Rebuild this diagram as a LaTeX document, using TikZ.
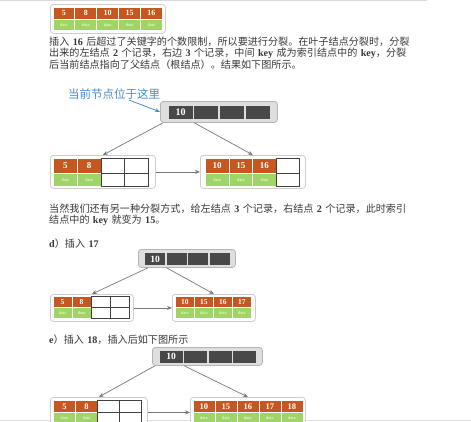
\documentclass[tikz,border=0pt]{standalone}
\usepackage{fontspec}
\setmainfont{Liberation Serif}
\newfontfamily\zhfont[WordSpace=1.5]{Noto Sans CJK SC}
\usepackage{tikz}
\usetikzlibrary{arrows.meta}
\definecolor{keyc}{RGB}{196,88,32}
\definecolor{datac}{RGB}{160,212,104}
\definecolor{darkc}{RGB}{72,72,72}
\definecolor{rootbg}{RGB}{222,222,222}
\definecolor{rootedge}{RGB}{180,180,180}
\definecolor{framec}{RGB}{205,205,205}
\definecolor{txtc}{RGB}{55,55,55}
\definecolor{notec}{RGB}{70,140,200}
\definecolor{arrowc}{RGB}{120,120,120}
\newcommand\bnum[1]{{\rmfamily\bfseries #1}}

\begin{document}
\begin{tikzpicture}[x=1pt,y=-1pt,
  txt/.style={anchor=west,inner sep=0,text=txtc,font=\zhfont\fontsize{10.1}{12}\selectfont},
  leafframe/.style={draw=framec,fill=white,rounded corners=3pt,line width=0.8pt,anchor=north west,inner sep=0},
  rootframe/.style={draw=rootedge,fill=rootbg,rounded corners=3pt,line width=0.8pt,anchor=north west,inner sep=0},
  keycell/.style={fill=keyc,draw=white,line width=0.8pt,anchor=north west,inner sep=0,text=white,font=\bfseries\fontsize{8.5}{8.5}\selectfont},
  datacell/.style={fill=datac,draw=white,line width=0.8pt,anchor=north west,inner sep=0,text=white,font=\fontsize{4.5}{4.5}\selectfont},
  nilcell/.style={fill=white,draw=black!75,line width=0.7pt,anchor=north west,inner sep=0},
  darkcell/.style={fill=darkc,draw=rootbg,line width=1.6pt,anchor=north west,inner sep=0,text=white,font=\bfseries\fontsize{9.5}{9.5}\selectfont},
  link/.style={-{Stealth[length=5pt,width=4pt]},draw=arrowc,line width=0.7pt}]
  \useasboundingbox (0,0) rectangle (471,421);
  \clip (0,0) rectangle (471,421);
  % page edges
  \draw[gray!30,line width=1pt] (0,0.5) -- (427,0.5);
  \draw[gray!25,line width=1pt] (0,420) -- (471,420);

  % full leaf after inserting 16
  \node[leafframe,minimum width=115,minimum height=29] (full) at (50,4) {};
  \foreach \k [count=\i from 0] in {5,8,10,15,16} {
    \node[keycell,minimum width=21.9,minimum height=12.5,font=\bfseries\fontsize{8}{8}\selectfont] (fullk\i) at ({52.5+21.9*\i},6.5) {\k};
    \node[datacell,minimum width=21.9,minimum height=10.5] (fulld\i) at ({52.5+21.9*\i},19) {data};
  }

  \node[txt] (l1) at (49,42) {插入 \bnum{16} 后超过了关键字的个数限制，所以要进行分裂。在叶子结点分裂时，分裂};
  \node[txt] (l2) at (49,53.5) {出来的左结点 \bnum{2} 个记录，右边 \bnum{3} 个记录，中间 \bnum{key} 成为索引结点中的 \bnum{key}，分裂};
  \node[txt] (l3) at (49,65) {后当前结点指向了父结点（根结点）。结果如下图所示。};

  % split: 2 left, 3 right
  \node[txt,text=notec,font=\zhfont\fontsize{11.5}{12}\selectfont] (note) at (68,94) {当前节点位于这里};
  \coordinate (notetip) at (129,100);
  \node[rootframe,minimum width=117,minimum height=21] (aRoot) at (160,101) {};
  \foreach \k [count=\i from 0] in {10,,,} {
    \node[darkcell,minimum width=25.7,minimum height=15,font=\bfseries\fontsize{10}{10}\selectfont] (aRootk\i) at ({167+25.7*\i},104) {\k};
  }
  \node[leafframe,minimum width=105,minimum height=33] (aLeft) at (50,155) {};
  \foreach \k [count=\i from 0] in {5,8} {
    \node[keycell,minimum width=23.8,minimum height=15,font=\bfseries\fontsize{9}{9}\selectfont] (aLeftk\i) at ({53+23.8*\i},158) {\k};
    \node[datacell,minimum width=23.8,minimum height=13] (aLeftd\i) at ({53+23.8*\i},173) {data};
  }
  \foreach \i in {2,3} {
    \node[nilcell,minimum width=23.8,minimum height=15] (aLeftk\i) at ({53+23.8*\i},158) {};
    \node[nilcell,minimum width=23.8,minimum height=13] (aLeftd\i) at ({53+23.8*\i},173) {};
  }
  \node[leafframe,minimum width=105,minimum height=33] (aRight) at (200,155) {};
  \foreach \k [count=\i from 0] in {10,15,16} {
    \node[keycell,minimum width=23.6,minimum height=15,font=\bfseries\fontsize{9}{9}\selectfont] (aRightk\i) at ({205+23.6*\i},158) {\k};
    \node[datacell,minimum width=23.6,minimum height=13] (aRightd\i) at ({205+23.6*\i},173) {data};
  }
  \node[nilcell,minimum width=23.6,minimum height=15] (aRightk3) at ({205+23.6*3},158) {};
  \node[nilcell,minimum width=23.6,minimum height=13] (aRightd3) at ({205+23.6*3},173) {};
  \draw[-{Stealth[length=5pt,width=4pt]},notec,line width=0.8pt] (notetip) -- (aRoot.west);
  \draw[link] ([xshift=3pt]aRoot.south west) -- (aLeft.north);
  \draw[link] (aRootk0.south east |- aRoot.south) -- (aRight.north);
  \draw[link] (aLeft.east) -- (aRight.west);

  \node[txt] (l4) at (49,208.5) {当然我们还有另一种分裂方式，给左结点 \bnum{3} 个记录，右结点 \bnum{2} 个记录，此时索引};
  \node[txt] (l5) at (49,220.5) {结点中的 \bnum{key} 就变为 \bnum{15}。};
  \node[txt] (l6) at (49,244) {\bnum{d}）插入 \bnum{17}};

  % d) insert 17
  \node[rootframe,minimum width=97,minimum height=18] (bRoot) at (138,249) {};
  \foreach \k [count=\i from 0] in {10,,,} {
    \node[darkcell,minimum width=21.5,minimum height=13.5] (bRootk\i) at ({143.5+21.5*\i},251.5) {\k};
  }
  \node[leafframe,minimum width=83,minimum height=27] (bLeft) at (50,294) {};
  \foreach \k [count=\i from 0] in {5,8} {
    \node[keycell,minimum width=19,minimum height=11,font=\bfseries\fontsize{7.5}{7.5}\selectfont] (bLeftk\i) at ({52.7+19*\i},296) {\k};
    \node[datacell,minimum width=19,minimum height=10.5] (bLeftd\i) at ({52.7+19*\i},307) {data};
  }
  \foreach \i in {2,3} {
    \node[nilcell,line width=1pt,minimum width=19,minimum height=11] (bLeftk\i) at ({52.7+19*\i},296) {};
    \node[nilcell,line width=1pt,minimum width=19,minimum height=10.5] (bLeftd\i) at ({52.7+19*\i},307) {};
  }
  \node[leafframe,minimum width=83,minimum height=27] (bRight) at (172,294) {};
  \foreach \k [count=\i from 0] in {10,15,16,17} {
    \node[keycell,minimum width=19,minimum height=11,font=\bfseries\fontsize{7.5}{7.5}\selectfont] (bRightk\i) at ({175+19*\i},296) {\k};
    \node[datacell,minimum width=19,minimum height=10.5] (bRightd\i) at ({175+19*\i},307) {data};
  }
  \draw[link] ([xshift=10pt]bRoot.south west) -- (bLeft.north);
  \draw[link] (bRootk0.south east |- bRoot.south) -- (bRight.north);
  \draw[link] (bLeft.east) -- (bRight.west);

  \node[txt] (l7) at (49,339.5) {\bnum{e}）插入 \bnum{18}，插入后如下图所示};

  % e) insert 18
  \node[rootframe,minimum width=110,minimum height=18] (cRoot) at (152,347) {};
  \foreach \k [count=\i from 0] in {10,,,} {
    \node[darkcell,minimum width=24.6,minimum height=14] (cRootk\i) at ({158+24.6*\i},349) {\k};
  }
  \node[leafframe,minimum width=97,minimum height=30] (cLeft) at (50,397) {};
  \foreach \k [count=\i from 0] in {5,8} {
    \node[keycell,minimum width=22,minimum height=12] (cLeftk\i) at ({53+22*\i},400) {\k};
    \node[datacell,minimum width=22,minimum height=12] (cLeftd\i) at ({53+22*\i},412) {data};
  }
  \foreach \i in {2,3} {
    \node[nilcell,minimum width=22,minimum height=12] (cLeftk\i) at ({53+22*\i},400) {};
    \node[nilcell,minimum width=22,minimum height=12] (cLeftd\i) at ({53+22*\i},412) {};
  }
  \node[leafframe,minimum width=115,minimum height=30] (cRight) at (190,397) {};
  \foreach \k [count=\i from 0] in {10,15,16,17,18} {
    \node[keycell,minimum width=22,minimum height=12] (cRightk\i) at ({192.5+22*\i},400) {\k};
    \node[datacell,minimum width=22,minimum height=12] (cRightd\i) at ({192.5+22*\i},412) {data};
  }
  \draw[link] ([xshift=3pt]cRoot.south west) -- (cLeft.north);
  \draw[link] (cRootk0.south east |- cRoot.south) -- (cRight.north);
  \draw[link] (cLeft.east) -- (cRight.west);
\end{tikzpicture}
\end{document}
